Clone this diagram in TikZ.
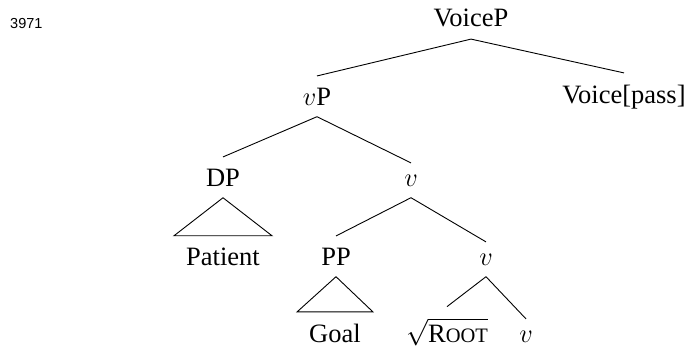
\RequirePackage{fix-cm}
\documentclass[tikz,border=0pt]{standalone}
\usepackage{fontspec}
\setmainfont{Liberation Serif}
\newfontfamily\labelsans{Liberation Sans}
\begin{document}
\begin{tikzpicture}[x=1pt,y=-1pt,
  cat/.style={anchor=base,inner xsep=12pt,inner ysep=11.5pt,
    font=\fontsize{26.5}{30}\selectfont},
  branch/.style={line width=0.9pt},
  tri/.style={line width=0.9pt,line join=miter}]
\useasboundingbox (0,0) rectangle (693,348);

% item number
\node[anchor=base west,inner sep=0pt,font=\labelsans\fontsize{14.5}{16}\selectfont]
  (num) at (10,28) {3971};

% tree nodes
\node[cat] (voicep) at (471,27)  {VoiceP};
\node[cat] (vp)     at (317,105) {$v$P};
\node[cat] (voice)  at (624,103) {Voice[pass]};
\node[cat] (dp)     at (223,186) {DP};
\node[cat] (vbar)   at (411,186) {$v$};
\node[cat] (pat)    at (223,265) {Patient};
\node[cat] (pp)     at (336,265) {PP};
\node[cat] (vlow)   at (486,265) {$v$};
\node[cat] (goal)   at (335,342) {Goal};
\node[cat] (root)   at (447,342) {$\sqrt{\mbox{R\fontsize{20.5}{22}\selectfont OOT}}$};
\node[cat] (vhead)  at (526,342) {$v$};

% branches
\draw[branch] (voicep.south) -- (vp.north);
\draw[branch] (voicep.south) -- (voice.north);
\draw[branch] (vp.south) -- (dp.north);
\draw[branch] (vp.south) -- (vbar.north);
\draw[branch] (vbar.south) -- (pp.north);
\draw[branch] (vbar.south) -- (vlow.north);
\draw[branch] (vlow.south) -- (root.north);
\draw[branch] (vlow.south) -- (vhead.north);

% triangles over unanalysed phrases
\draw[tri] (dp.south) -- (pat.north east) -- (pat.north west) -- cycle;
\draw[tri] (pp.south) -- (goal.north east) -- (goal.north west) -- cycle;
\end{tikzpicture}
\end{document}
